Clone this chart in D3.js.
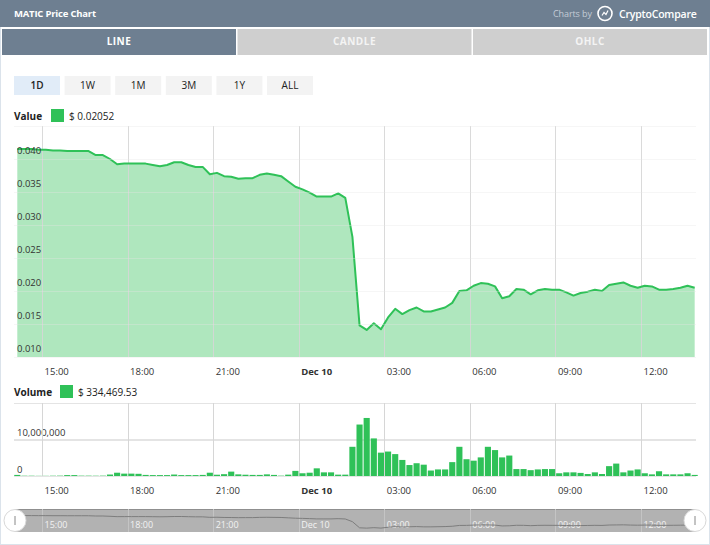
<!DOCTYPE html>
<html>
<head>
<meta charset="utf-8">
<script src="https://cdn.jsdelivr.net/npm/d3@7"></script>
<style>
  body { margin: 0; background: #fff; }
  svg { display: block; font-family: "Open Sans", "Noto Sans", sans-serif; }
  .tick line { shape-rendering: crispEdges; }
</style>
</head>
<body>
<svg width="710" height="545"></svg>
<script>
// 15 minute samples, Dec 9 14:08 -> Dec 10 13:53
var startTime = new Date(2019, 11, 9, 14, 8);
var stepMinutes = 15;

var priceValues = [
  0.0415, 0.0415, 0.0415, 0.0414, 0.0414, 0.0413, 0.0413, 0.0412, 0.0412, 0.0412,
  0.0412, 0.0406, 0.0406, 0.0400, 0.0392, 0.0393, 0.0393, 0.0393, 0.0393, 0.0391,
  0.0389, 0.0391, 0.0395, 0.0395, 0.0391, 0.0388, 0.0388, 0.0377, 0.0379, 0.0374,
  0.0373, 0.0370, 0.0371, 0.0371, 0.0376, 0.0378, 0.0376, 0.0374, 0.0366, 0.0358,
  0.0354, 0.0349, 0.0343, 0.0343, 0.0343, 0.0348, 0.0341, 0.0282, 0.0148, 0.0141,
  0.0151, 0.0142, 0.0160, 0.0173, 0.0165, 0.0171, 0.0175, 0.0169, 0.0169, 0.0172,
  0.0175, 0.0182, 0.0200, 0.0201, 0.0208, 0.0212, 0.0211, 0.0207, 0.0189, 0.0192,
  0.0203, 0.0202, 0.0195, 0.0201, 0.0203, 0.0202, 0.0202, 0.0198, 0.0193, 0.0197,
  0.0199, 0.0202, 0.0200, 0.0209, 0.0211, 0.0213, 0.0208, 0.0205, 0.0208, 0.0207,
  0.0202, 0.0202, 0.0203, 0.0205, 0.0208, 0.0205
];

// volume in millions of USD
var volumeMillions = [
  0.3, 0.08, 0.08, 0.05, 0.05, 0.08, 0.1, 0.25, 0.25, 0.1,
  0.1, 0.08, 0.1, 0.4, 0.9, 0.65, 0.65, 0.6, 0.3, 0.25,
  0.25, 0.25, 0.4, 0.25, 0.25, 0.25, 0.3, 0.9, 0.35, 0.5,
  1.2, 0.45, 0.35, 0.3, 0.3, 0.45, 0.3, 0.1, 0.37, 1.4,
  0.75, 0.9, 2.1, 1.0, 1.0, 0.37, 0.37, 8.0, 14.1, 15.9,
  10.3, 6.4, 6.7, 6.0, 4.4, 3.0, 3.5, 3.1, 1.5, 1.8,
  1.8, 3.8, 8.0, 4.6, 4.2, 5.1, 8.0, 7.1, 5.1, 5.6,
  1.9, 1.9, 1.6, 1.8, 1.9, 1.9, 0.75, 1.0, 1.0, 0.85,
  0.55, 1.0, 0.55, 2.7, 3.4, 1.0, 1.5, 1.8, 0.75, 0.45,
  1.3, 0.45, 0.45, 0.45, 0.75, 0.3
];

var xTickTimes = [
  new Date(2019, 11, 9, 15), new Date(2019, 11, 9, 18), new Date(2019, 11, 9, 21),
  new Date(2019, 11, 10, 0), new Date(2019, 11, 10, 3), new Date(2019, 11, 10, 6),
  new Date(2019, 11, 10, 9), new Date(2019, 11, 10, 12)
];
var priceTicks = [0.010, 0.015, 0.020, 0.025, 0.030, 0.035, 0.040, 0.045];
var volumeTicks = [0, 10, 20];
var rangeButtons = ['1D', '1W', '1M', '3M', '1Y', 'ALL'];
var tabs = ['LINE', 'CANDLE', 'OHLC'];

var data = priceValues.map(function(v, i) {
  return { t: new Date(startTime.getTime() + i * stepMinutes * 60000), price: v, vol: volumeMillions[i] };
});

var green = '#2fc158';
var greenFill = '#a8e5b8';
var slate = '#6e7f91';

var svg = d3.select('svg');

// outer frame
svg.append('rect').attr('x', 0.5).attr('y', 0.5).attr('width', 709).attr('height', 544)
  .attr('fill', '#fff').attr('stroke', '#dbe3eb');

// header
svg.append('rect').attr('x', 0).attr('y', 0).attr('width', 710).attr('height', 27).attr('fill', slate);
svg.append('text').text('MATIC Price Chart').attr('x', 14).attr('y', 17)
  .attr('fill', '#fff').attr('font-size', 9.5).attr('font-weight', 'bold').attr('letter-spacing', -0.2);
svg.append('text').text('Charts by').attr('x', 553).attr('y', 17)
  .attr('fill', '#c3ccd6').attr('font-size', 9).attr('letter-spacing', -0.1);
var logo = svg.append('g').attr('transform', 'translate(605,13.5)');
logo.append('circle').attr('r', 7).attr('fill', 'none').attr('stroke', '#fff').attr('stroke-width', 1.6);
logo.append('path').attr('d', 'M-3,2 L-1,-1 L1,1 L3,-3').attr('fill', 'none').attr('stroke', '#fff').attr('stroke-width', 1.2);
svg.append('text').text('CryptoCompare').attr('x', 619).attr('y', 17.5)
  .attr('fill', '#fff').attr('font-size', 10.5).attr('font-weight', 600).attr('letter-spacing', -0.2);

// tabs
var tabW = 234;
tabs.forEach(function(name, i) {
  var x = 2 + i * (tabW + 1.5);
  svg.append('rect').attr('x', x).attr('y', 29).attr('width', tabW).attr('height', 26)
    .attr('fill', i === 0 ? slate : '#cfcfcf');
  svg.append('text').text(name).attr('x', x + tabW / 2).attr('y', 45)
    .attr('text-anchor', 'middle').attr('fill', i === 0 ? '#fff' : '#f4f4f4')
    .attr('font-size', 10).attr('font-weight', 'bold').attr('letter-spacing', 0.5);
});

// range buttons
rangeButtons.forEach(function(name, i) {
  var x = 14 + i * 50.6;
  svg.append('rect').attr('x', x).attr('y', 76).attr('width', 46).attr('height', 19)
    .attr('fill', i === 0 ? '#e1ecf8' : '#f3f3f3');
  svg.append('text').text(name).attr('x', x + 23).attr('y', 89)
    .attr('text-anchor', 'middle').attr('fill', '#222').attr('font-size', 10)
    .attr('font-weight', i === 0 ? 600 : 400);
});

// legends
function legend(label, value, y, sqX) {
  svg.append('text').text(label).attr('x', 14).attr('y', y + 4)
    .attr('fill', '#222').attr('font-size', 10).attr('font-weight', 'bold');
  svg.append('rect').attr('x', sqX).attr('y', y - 7).attr('width', 13).attr('height', 13).attr('fill', green);
  svg.append('text').text(value).attr('x', sqX + 18).attr('y', y + 4)
    .attr('fill', '#222').attr('font-size', 10);
}
legend('Value', '$  0.02052', 116, 51);
legend('Volume', '$  334,469.53', 392, 60);

// scales
var xScale = d3.scaleTime()
  .domain([new Date(2019, 11, 9, 14), new Date(2019, 11, 10, 14)])
  .range([13.5, 698]);
var yPrice = d3.scaleLinear().domain([0.010, 0.045]).range([357, 126]);
var yVol = d3.scaleLinear().domain([0, 20]).range([476, 403]);

var plotLeft = 14, plotRight = 696;

function timeLabel(d) {
  return d.getHours() === 0 ? d3.timeFormat('%b %d')(d).replace(' 0', ' ') : d3.timeFormat('%H:%M')(d);
}

function drawPanel(top, bottom, yScale, ticks, fmt, labelDy) {
  // horizontal grid + labels
  var yAxis = d3.axisRight(yScale).tickValues(ticks).tickSize(plotRight - plotLeft).tickFormat(fmt);
  var gy = svg.append('g').attr('transform', 'translate(' + plotLeft + ',0)').call(yAxis);
  gy.select('.domain').remove();
  gy.selectAll('.tick line').attr('stroke', '#e4e4e4').attr('stroke-width', 1.5);
  gy.selectAll('.tick text').attr('x', 3).attr('dy', labelDy).attr('text-anchor', 'start')
    .attr('fill', '#333').attr('font-size', 9.5).attr('font-family', 'Open Sans');
  // vertical grid
  var xAxis = d3.axisBottom(xScale).tickValues(xTickTimes).tickSize(-(bottom - top)).tickFormat(timeLabel);
  var gx = svg.append('g').attr('transform', 'translate(0,' + bottom + ')').call(xAxis);
  gx.select('.domain').remove();
  gx.selectAll('.tick line').attr('stroke', '#d6d6d6');
  gx.selectAll('.tick text').attr('x', 2).attr('y', 11).attr('text-anchor', 'start')
    .attr('fill', '#333').attr('font-size', 9.5).attr('font-family', 'Open Sans')
    .attr('font-weight', function(d) { return d.getHours() === 0 ? 'bold' : 'normal'; });
  return { gx: gx, gy: gy };
}

// price panel
var pricePanel = drawPanel(126, 357, yPrice, priceTicks, function(d) {
  return d === 0.045 ? '' : d3.format('.3f')(d);
}, -6);

var area = d3.area().x(function(d) { return xScale(d.t); })
  .y0(yPrice(0.010)).y1(function(d) { return yPrice(d.price); });
var line = d3.line().x(function(d) { return xScale(d.t); }).y(function(d) { return yPrice(d.price); });

svg.append('path').datum(data).attr('d', area).attr('fill', greenFill).attr('fill-opacity', 0.92);
// grid lines show faintly through the fill
pricePanel.gx.raise();
pricePanel.gx.selectAll('.tick line').attr('stroke-opacity', 0.9);
svg.append('path').datum(data).attr('d', line).attr('fill', 'none')
  .attr('stroke', green).attr('stroke-width', 2).attr('stroke-linejoin', 'round');
pricePanel.gy.raise();
pricePanel.gy.selectAll('.tick line').attr('stroke-opacity', 0.35);

// volume panel
var volPanel = drawPanel(403, 476, yVol, volumeTicks, function(d) {
  return d === 20 ? '' : d3.format(',')(d * 1e6);
}, -4);
var barW = xScale(new Date(startTime.getTime() + stepMinutes * 60000)) - xScale(startTime);
svg.append('g').selectAll('rect').data(data).join('rect')
  .attr('x', function(d) { return xScale(d.t) - barW / 2 + 0.5; })
  .attr('width', barW - 1)
  .attr('y', function(d) { return yVol(d.vol); })
  .attr('height', function(d) { return yVol(0) - yVol(d.vol); })
  .attr('fill', green);

// navigator
var navTop = 509, navBottom = 532;
var yNav = d3.scaleLinear().domain([0.010, 0.045]).range([530, 514]);
var nav = svg.append('g');
nav.append('rect').attr('x', 15).attr('y', navTop).attr('width', 680).attr('height', navBottom - navTop)
  .attr('fill', '#b2b2b2');
nav.append('line').attr('x1', 15).attr('x2', 695).attr('y1', navTop + 0.5).attr('y2', navTop + 0.5)
  .attr('stroke', '#8f8f8f');
var navAxis = d3.axisBottom(xScale).tickValues(xTickTimes).tickSize(-(navBottom - navTop)).tickFormat(timeLabel);
var gn = nav.append('g').attr('transform', 'translate(0,' + navBottom + ')').call(navAxis);
gn.select('.domain').remove();
gn.selectAll('.tick line').attr('stroke', '#c4c4c4');
gn.selectAll('.tick text').attr('x', 2).attr('y', -4).attr('dy', 0).attr('text-anchor', 'start')
  .attr('fill', '#f2f2f2').attr('font-size', 9).attr('font-family', 'Open Sans');
nav.append('path').datum(data)
  .attr('d', d3.line().x(function(d) { return xScale(d.t); }).y(function(d) { return yNav(d.price); }))
  .attr('fill', 'none').attr('stroke', '#7d7d7d').attr('stroke-width', 1);
[15, 695].forEach(function(cx) {
  nav.append('circle').attr('cx', cx).attr('cy', 520.5).attr('r', 11).attr('fill', '#fff')
    .attr('stroke', '#d8d8d8');
  nav.append('line').attr('x1', cx).attr('x2', cx).attr('y1', 516).attr('y2', 525)
    .attr('stroke', '#888');
});
</script>
</body>
</html>
